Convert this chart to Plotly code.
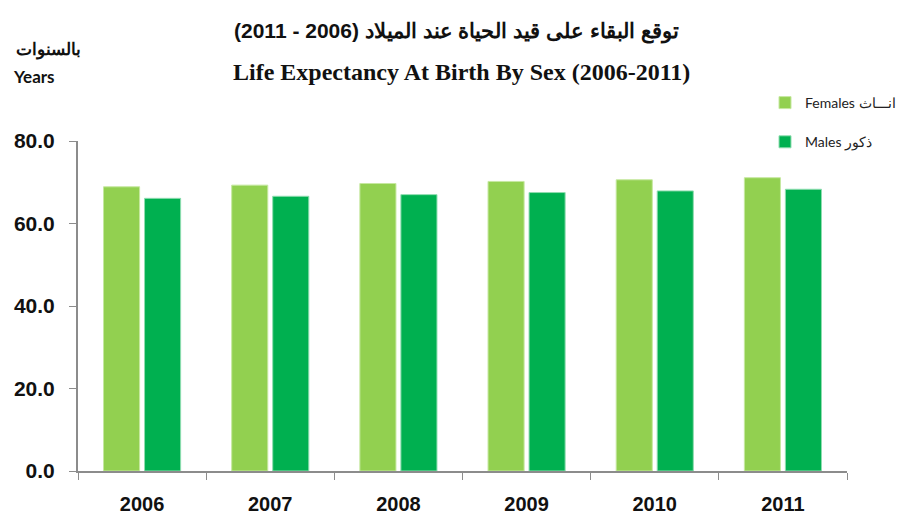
import plotly.graph_objects as go

years = ["2006", "2007", "2008", "2009", "2010", "2011"]
females = [68.9, 69.3, 69.7, 70.2, 70.6, 71.1]
males = [66.1, 66.6, 67.0, 67.5, 67.9, 68.3]
y_ticks = [0, 20, 40, 60, 80]

label_font = "Liberation Sans, Arial, sans-serif"

# the page body adds an 8px margin, so the figure is 8px smaller each way
# helpers take page pixels: plot area spans x 78..847, paper spans y 18..471
def px_x(p):
    return (p - 78) / 769

def px_y(p):
    return (471 - p) / 453

fig = go.Figure()
fig.add_trace(go.Bar(
    x=years, y=females, name="Females انـــاث",
    marker=dict(color="#92D050", line=dict(color="#C6E8A0", width=1)),
    legendgroup="f",
))
fig.add_trace(go.Bar(
    x=years, y=males, name="Males ذكور",
    marker=dict(color="#00B050", line=dict(color="#8FDDB0", width=1)),
    legendgroup="m",
))

fig.update_layout(
    width=900, height=509,
    paper_bgcolor="white", plot_bgcolor="white",
    margin=dict(l=70, r=61, t=10, b=46, autoexpand=False),
    barmode="group", bargap=0.36, bargroupgap=0.12,
    showlegend=True,
    legend=dict(
        x=px_x(765), y=px_y(87), xanchor="left", yanchor="top",
        font=dict(family="Lato, Noto Sans, sans-serif", size=14, color="#222"),
        tracegroupgap=18, itemwidth=30,
        bgcolor="rgba(0,0,0,0)",
    ),
)

fig.update_xaxes(
    type="category", automargin=False,
    showline=True, linecolor="#8c8c8c", linewidth=2,
    ticks="outside", tickson="boundaries", ticklen=7, tickcolor="#8c8c8c", tickwidth=1,
    tickfont=dict(family=label_font, size=20, color="#111", weight="bold"),
    ticklabelstandoff=14,
    showgrid=False,
)
fig.update_yaxes(
    domain=[0, px_y(141)], automargin=False,
    range=[0, 80], tickvals=y_ticks, tickformat=".1f",
    showline=True, linecolor="#8c8c8c", linewidth=2,
    ticks="outside", ticklen=7, tickcolor="#8c8c8c",
    tickfont=dict(family=label_font, size=21, color="#111", weight="bold"),
    ticklabelstandoff=10,
    showgrid=False, zeroline=False,
)

fig.add_annotation(
    text="<b>توقع البقاء على قيد الحياة عند الميلاد (2006 - 2011)</b>",
    xref="paper", yref="paper", x=px_x(456), y=px_y(17), xanchor="center", showarrow=False,
    font=dict(family="Liberation Sans, Arial, sans-serif", size=21, color="#111"),
)
fig.add_annotation(
    text="<b>Life Expectancy At Birth By Sex (2006-2011)</b>",
    xref="paper", yref="paper", x=px_x(461), y=px_y(57), xanchor="center", showarrow=False,
    font=dict(family="Liberation Serif, Times New Roman, serif", size=24, color="#111"),
)
fig.add_annotation(
    text="<b>بالسنوات</b>",
    xref="paper", yref="paper", x=px_x(48), y=px_y(38), xanchor="center", showarrow=False,
    font=dict(family="Liberation Sans, Arial, sans-serif", size=17, color="#111"),
)
fig.add_annotation(
    text="<b>Years</b>",
    xref="paper", yref="paper", x=px_x(34), y=px_y(64), xanchor="center", showarrow=False,
    font=dict(family="Lato, Noto Sans, sans-serif", size=17, color="#111"),
)

fig.write_html("out.html")
